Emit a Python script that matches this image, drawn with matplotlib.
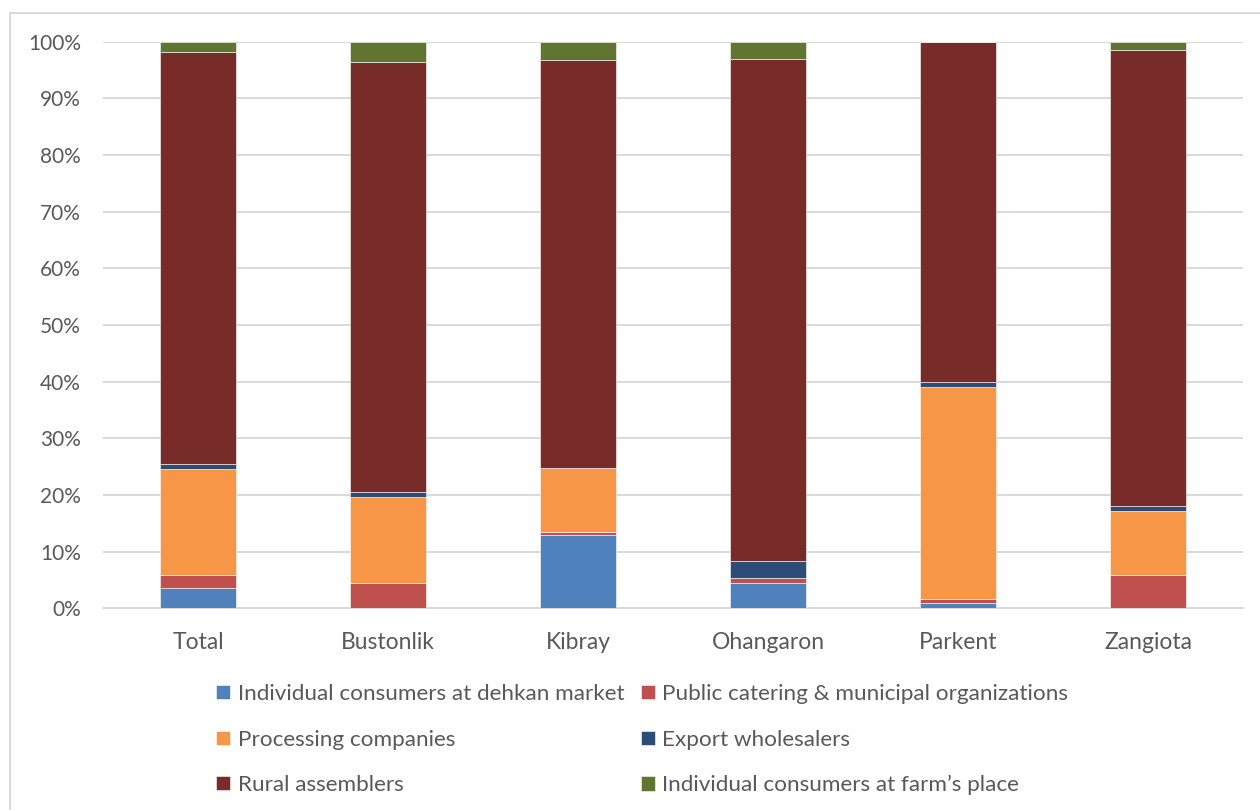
import matplotlib.pyplot as plt
import numpy as np
from matplotlib.patches import Rectangle
from matplotlib.ticker import PercentFormatter

plt.rcParams['font.family'] = ['Lato', 'DejaVu Sans']

districts = ['Total', 'Bustonlik', 'Kibray', 'Ohangaron', 'Parkent', 'Zangiota']

# shares of sales by channel, % of volume
dehkan_market = [3.6, 0.0, 13.0, 4.5, 1.0, 0.0]
public_catering = [2.2, 4.55, 0.4, 0.9, 0.6, 5.8]
processing = [18.8, 15.1, 11.4, 0.0, 37.4, 11.4]
export_wholesale = [0.9, 0.8, 0.0, 2.9, 0.9, 0.8]
rural_assemblers = [72.6, 75.9, 72.0, 88.6, 60.1, 80.5]
farm_place = [1.9, 3.65, 3.2, 3.1, 0.0, 1.5]

series = [
    ('Individual consumers at dehkan market', dehkan_market, '#4F81BD'),
    ('Public catering & municipal organizations', public_catering, '#C0504D'),
    ('Processing companies', processing, '#F79646'),
    ('Export wholesalers', export_wholesale, '#2C4D75'),
    ('Rural assemblers', rural_assemblers, '#772C2A'),
    ('Individual consumers at farm\u2019s place', farm_place, '#5F7530'),
]

txt = '#595959'
grid = '#D9D9D9'

fig = plt.figure(figsize=(12.6, 8.1), dpi=100)
ax = fig.add_axes([103/1260, 1-608.3/810, 1140/1260, (608.3-41.7)/810])

x = np.arange(len(districts))
bottom = np.zeros(len(districts))
handles = []
for name, vals, col in series:
    vals = np.array(vals)
    h = ax.bar(x, vals, 0.4, bottom=bottom, color=col, label=name,
               edgecolor='white', linewidth=0.4, zorder=3)
    handles.append(h)
    bottom += vals

ax.set_xlim(-0.5, len(districts) - 0.5)
ax.set_ylim(0, 100)
ax.set_yticks(np.arange(0, 101, 10))
ax.yaxis.set_major_formatter(PercentFormatter(decimals=0))
ax.set_xticks(x)
ax.set_xticklabels(districts)
ax.yaxis.grid(True, color=grid, linewidth=1.4, zorder=0)
ax.tick_params(axis='both', length=0, colors=txt)
ax.tick_params(axis='y', pad=16, labelsize=15)
ax.tick_params(axis='x', pad=17, labelsize=16.5)
for s in ['top', 'right', 'left']:
    ax.spines[s].set_visible(False)
ax.spines['bottom'].set_color(grid)
ax.spines['bottom'].set_linewidth(1.4)

# Excel-style legend: rows filled left to right
order = [0, 2, 4, 1, 3, 5]
leg = fig.legend([handles[i] for i in order], [series[i][0] for i in order],
                 ncol=2, loc='upper left', bbox_to_anchor=(196/1260, 1-664/810),
                 frameon=False, fontsize=16.2, handlelength=0.6, handleheight=0.6,
                 handletextpad=0.35, labelspacing=1.13, columnspacing=0.75)
for t in leg.get_texts():
    t.set_color(txt)

# chart border
fig.patches.append(Rectangle((10/1260, -0.05), 1.2, 1-13/810 + 0.05,
                             transform=fig.transFigure, fill=False,
                             edgecolor=grid, linewidth=1.4))

fig.savefig('out.png', dpi=100)
